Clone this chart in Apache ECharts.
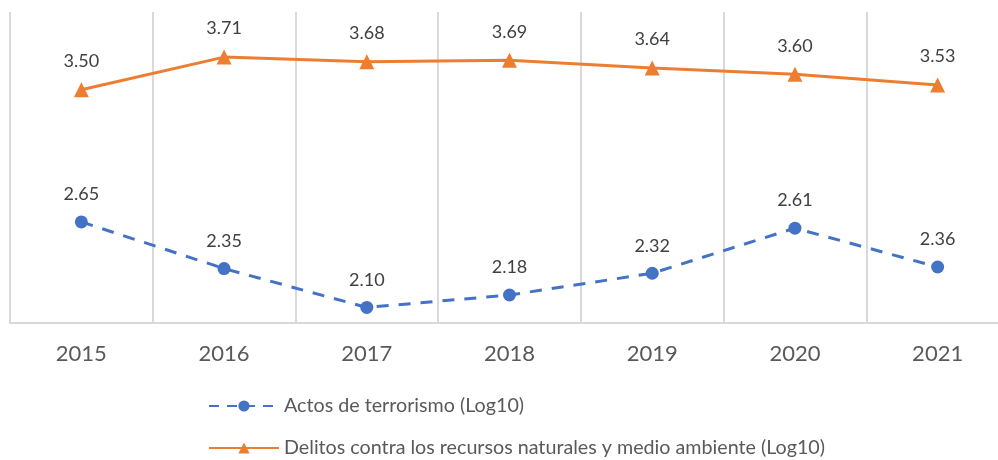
<!DOCTYPE html>
<html><head><meta charset="utf-8">
<script src="https://cdn.jsdelivr.net/npm/echarts@6/dist/echarts.min.js"></script>
<style>html,body{margin:0;padding:0;background:#fff;overflow:hidden;width:998px;height:460px}#c{width:1020px;height:460px}</style>
</head><body><div id="c"></div>
<script>
const years = ['2015','2016','2017','2018','2019','2020','2021'];
const terrorismo = [2.65, 2.35, 2.10, 2.18, 2.32, 2.61, 2.36];
const delitos = [3.50, 3.71, 3.68, 3.69, 3.64, 3.60, 3.53];
const nameTerror = 'Actos de terrorismo (Log10)';
const nameDelitos = 'Delitos contra los recursos naturales y medio ambiente (Log10)';
const FONT = 'Lato';
const chart = echarts.init(document.getElementById('c'));
const legendBase = {
  orient: 'horizontal', left: 203, itemWidth: 70, itemHeight: 14, itemGap: 10,
  textStyle: {color: '#595959', fontSize: 19.7, fontFamily: FONT}
};
chart.setOption({
  animation: false,
  textStyle: {fontFamily: FONT},
  grid: {left: 10, top: 12, right: 11, bottom: 137, containLabel: false},
  xAxis: {
    type: 'category', data: years, boundaryGap: true,
    axisLine: {show: true, lineStyle: {color: '#d9d9d9', width: 2}},
    axisTick: {show: false},
    axisLabel: {color: '#595959', fontSize: 22, fontFamily: FONT, margin: 20},
    splitLine: {show: true, lineStyle: {color: '#d9d9d9', width: 2}}
  },
  yAxis: {
    type: 'value', min: 2, max: 4, show: false,
    splitLine: {show: false}
  },
  legend: [
    Object.assign({}, legendBase, {top: 391, data: [{name: nameTerror, lineStyle: {type: [10, 8]}}]}),
    Object.assign({}, legendBase, {top: 433, data: [nameDelitos]})
  ],
  series: [
    {
      name: nameTerror, type: 'line', data: terrorismo,
      symbol: 'circle', symbolSize: 13,
      lineStyle: {color: '#4472C4', width: 3, type: [12, 10]},
      itemStyle: {color: '#4472C4'},
      label: {show: true, position: 'top', distance: 12, color: '#404040', fontSize: 18, fontFamily: FONT,
        formatter: p => p.value.toFixed(2)}
    },
    {
      name: nameDelitos, type: 'line', data: delitos,
      symbol: 'triangle', symbolSize: 15,
      lineStyle: {color: '#ED7D31', width: 3},
      itemStyle: {color: '#ED7D31'},
      label: {show: true, position: 'top', distance: 12, color: '#404040', fontSize: 18, fontFamily: FONT,
        formatter: p => p.value.toFixed(2)}
    }
  ]
});
</script></body></html>
